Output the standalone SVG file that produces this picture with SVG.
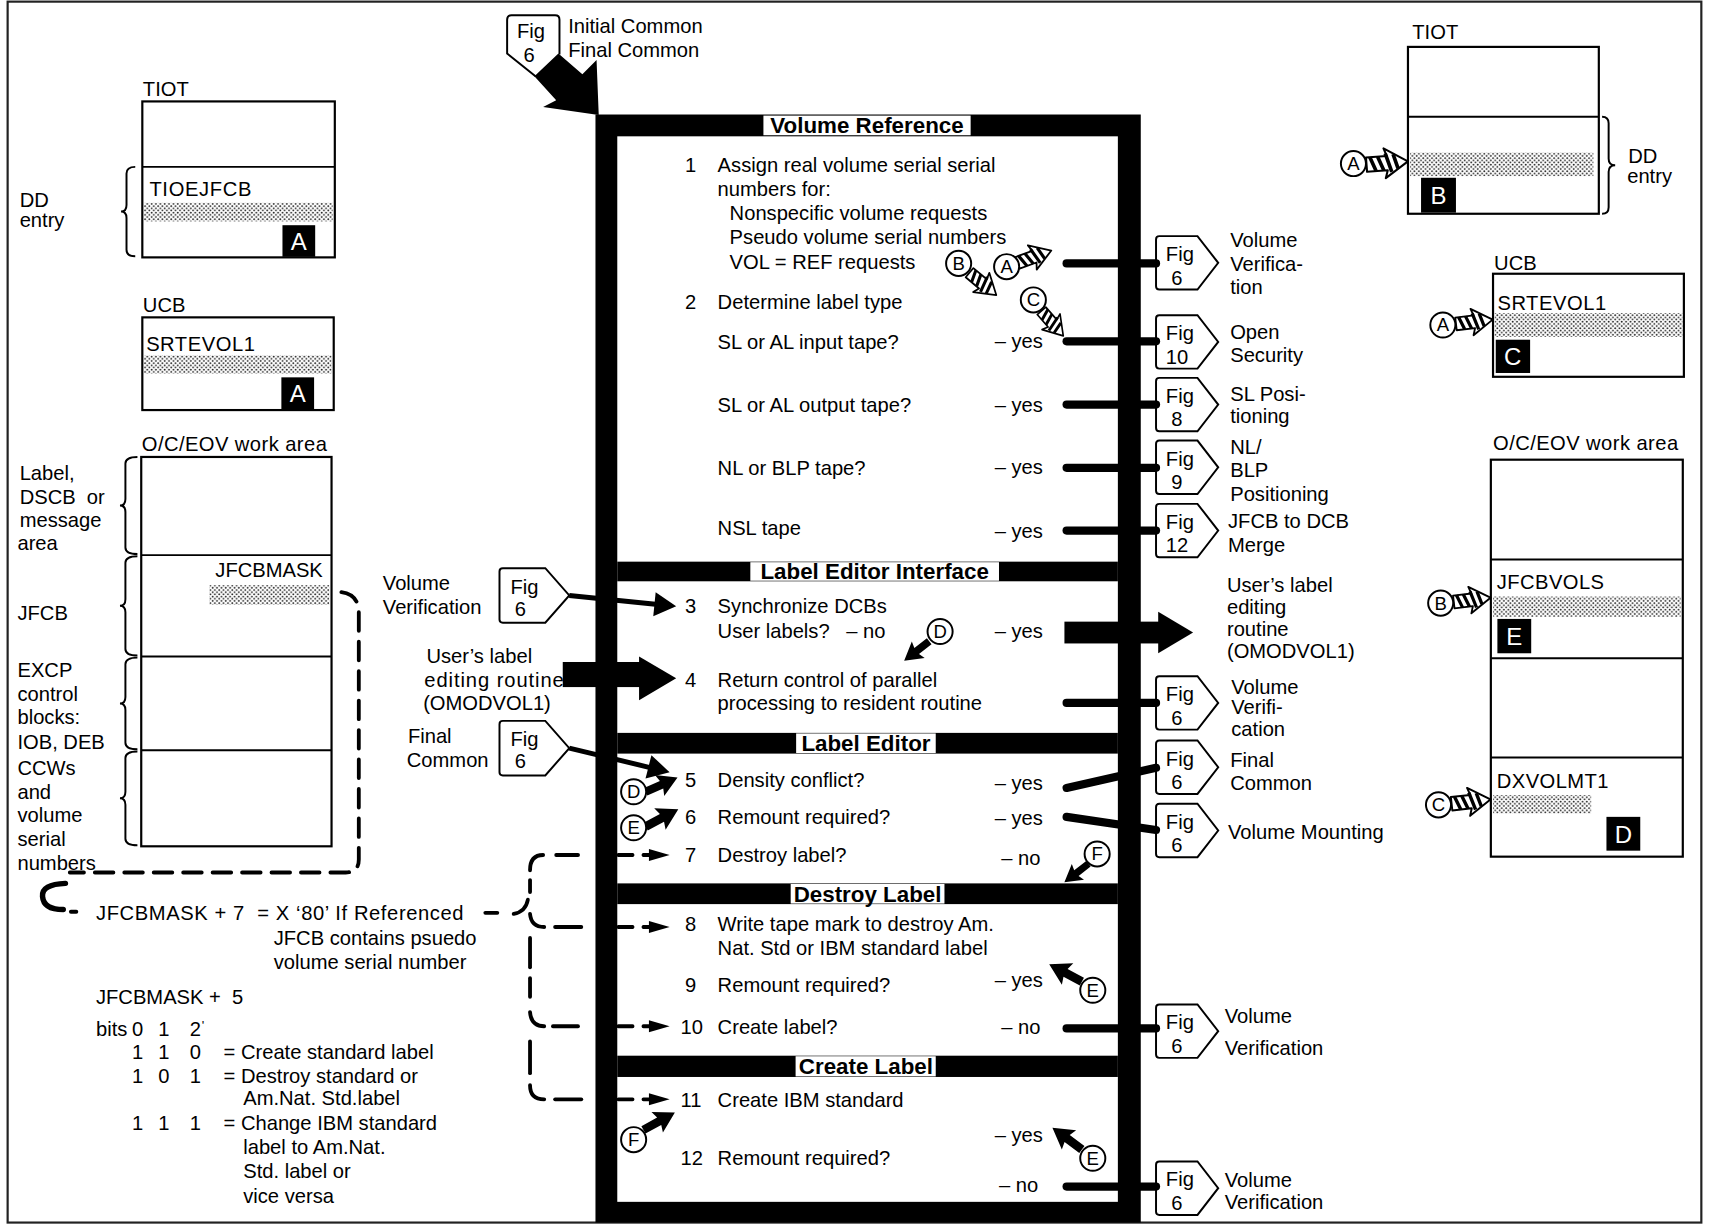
<svg xmlns="http://www.w3.org/2000/svg" width="1710" height="1225" viewBox="0 0 1710 1225">
<style>
text{font-family:"Liberation Sans",Arial,Helvetica,sans-serif;font-size:18.5px;fill:#000;dominant-baseline:central}
.h{font-weight:bold;font-size:20.5px;text-anchor:middle}
.cl{font-size:17px;text-anchor:middle}
.wl{fill:#fff;font-size:22px;text-anchor:middle}
.box{fill:#fff;stroke:#000;stroke-width:2}
.ln{stroke:#000;stroke-width:1.8;fill:none}
.br{fill:none;stroke:#000;stroke-width:1.8}
.dot{fill:url(#dots)}
.pent{fill:#fff;stroke:#000;stroke-width:1.8}
.circ{fill:#fff;stroke:#000;stroke-width:1.8}
.thick{stroke:#000;stroke-width:7.5;stroke-linecap:round;fill:none}
.thin{stroke:#000;stroke-width:4.5;fill:none}
.dash{stroke:#000;stroke-width:3.5;stroke-linecap:round;fill:none}
.blk{fill:#000}
</style>
<defs>
<pattern id="dots" patternUnits="userSpaceOnUse" width="4" height="4">
<rect width="4" height="4" fill="#fff"/>
<circle cx="1" cy="1" r="0.85" fill="#222"/>
<circle cx="3" cy="3" r="0.85" fill="#222"/>
</pattern>
<path id="pent" d="M0,3 Q0,0 3,0 L38,0 L57,24.5 L38,49 L3,49 Q0,49 0,46 Z"/>
<path id="pentL" d="M0,3 Q0,0 3,0 L42,0 L64,25 L42,50 L3,50 Q0,50 0,47 Z"/>
<g id="ha">
<polygon points="0,-5.5 16,-5.5 14,-11.5 32,0 14,11.5 16,5.5 0,5.5" fill="#fff" stroke="#000" stroke-width="1.6" stroke-linejoin="round"/>
<path d="M3,-5.5 L7,5.5 M9,-5.5 L13,5.5 M15,-7.5 L19,7 M21,-6.5 L24,4.7" stroke="#000" stroke-width="2.8"/>
</g>
<polygon id="ba" points="0,-3.8 16,-3.8 14,-10.5 32,0 14,10.5 16,3.8 0,3.8" fill="#000"/>
<g id="da">
<path d="M0,0 L13,0 M23,0 L30,0" stroke="#000" stroke-width="3.5" stroke-linecap="round"/>
<polygon points="28,-5.5 47,0 28,5.5" fill="#000"/>
</g>
</defs>
<rect width="1710" height="1225" fill="#fff"/>
<g transform="scale(1.0906)">
<rect id="frame" x="7" y="1.5" width="1553" height="1119.5" fill="none" stroke="#222" stroke-width="2"/>

<!-- Left TIOT -->
<g id="tiot-left">
<text x="131" y="82">TIOT</text>
<rect class="box" x="130.5" y="93" width="176.5" height="143"/>
<line class="ln" x1="130.5" y1="153" x2="307" y2="153"/>
<text x="137" y="173.5" letter-spacing="0.6">TIOEJFCB</text>
<rect class="dot" x="132" y="186" width="173" height="17"/>
<rect class="blk" x="259" y="206.5" width="30" height="29"/>
<text class="wl" x="274" y="221.5">A</text>
<path class="br" d="M124,153 Q116,153 116,159 L116,188 Q116,194 111,194 Q116,194 116,200 L116,229 Q116,235 124,235"/>
<text x="18" y="183.5">DD</text>
<text x="18" y="201.5">entry</text>
</g>

<!-- Left UCB -->
<g id="ucb-left">
<text x="131" y="280">UCB</text>
<rect class="box" x="130.5" y="291" width="175.5" height="85"/>
<text x="134" y="315" letter-spacing="0.5">SRTEVOL1</text>
<rect class="dot" x="132" y="325.5" width="172" height="17"/>
<rect class="blk" x="258" y="346" width="30" height="29.5"/>
<text class="wl" x="273" y="361">A</text>
</g>

<!-- Left work area -->
<g id="workarea-left">
<text x="130" y="407" letter-spacing="0.4">O/C/EOV work area</text>
<rect class="box" x="129.5" y="419" width="174.5" height="357"/>
<line class="ln" x1="129.5" y1="509" x2="304" y2="509"/>
<line class="ln" x1="129.5" y1="602" x2="304" y2="602"/>
<line class="ln" x1="129.5" y1="688" x2="304" y2="688"/>
<text x="296" y="523" text-anchor="end">JFCBMASK</text>
<rect class="dot" x="192" y="536.5" width="110" height="18"/>
<path class="br" d="M126,419 Q115,419 115,425 L115,457.5 Q115,463.5 110,463.5 Q115,463.5 115,469.5 L115,502 Q115,508 126,508"/>
<path class="br" d="M126,510 Q115,510 115,516 L115,549.5 Q115,555.5 110,555.5 Q115,555.5 115,561.5 L115,595 Q115,601 126,601"/>
<path class="br" d="M126,603 Q115,603 115,609 L115,639 Q115,645 110,645 Q115,645 115,651 L115,681 Q115,687 126,687"/>
<path class="br" d="M126,689 Q115,689 115,695 L115,726 Q115,732 110,732 Q115,732 115,738 L115,769 Q115,775 126,775"/>
<text x="18" y="434">Label,</text>
<text x="18" y="455.5" xml:space="preserve">DSCB  or</text>
<text x="18" y="477">message</text>
<text x="16" y="498">area</text>
<text x="16" y="562">JFCB</text>
<text x="16" y="614">EXCP</text>
<text x="16" y="636">control</text>
<text x="16" y="657.5">blocks:</text>
<text x="16" y="680">IOB, DEB</text>
<text x="16" y="704.5">CCWs</text>
<text x="16" y="726">and</text>
<text x="16" y="747.5">volume</text>
<text x="16" y="769.5">serial</text>
<text x="16" y="791.5">numbers</text>
</g>

<!-- Bottom-left notes -->
<g id="notes">
<text x="88" y="837" textLength="337" lengthAdjust="spacing" xml:space="preserve">JFCBMASK + 7  = X ‘80’ If Referenced</text>
<text x="251" y="860">JFCB contains psuedo</text>
<text x="251" y="882.5">volume serial number</text>
<text x="88" y="914" xml:space="preserve">JFCBMASK +  5</text>
<text y="943.5"><tspan x="88">bits</tspan><tspan x="121">0</tspan><tspan x="145">1</tspan><tspan x="174">2</tspan><tspan x="185" dy="-4" font-size="12">'</tspan></text>
<text y="965"><tspan x="121">1</tspan><tspan x="145">1</tspan><tspan x="174">0</tspan><tspan x="205">= Create standard label</tspan></text>
<text y="986.5"><tspan x="121">1</tspan><tspan x="145">0</tspan><tspan x="174">1</tspan><tspan x="205">= Destroy standard or</tspan></text>
<text x="223" y="1007">Am.Nat. Std.label</text>
<text y="1029.5"><tspan x="121">1</tspan><tspan x="145">1</tspan><tspan x="174">1</tspan><tspan x="205">= Change IBM standard</tspan></text>
<text x="223" y="1051.5">label to Am.Nat.</text>
<text x="223" y="1073.5">Std. label or</text>
<text x="223" y="1096.5">vice versa</text>
</g>

<!-- Top entry pentagon -->
<g id="entry-fig6">
<path class="pent" d="M491,70 L465,49 L465,18 Q465,14 469,14 L509,14 Q513,14 513,18 L513,50"/>
<polygon class="blk" points="512,49 534,68 547,55 549,105.5 498,98 510,92 490,70"/>
<text x="474" y="28">Fig</text>
<text x="480" y="50">6</text>
<text x="521" y="24">Initial Common</text>
<text x="521" y="45.5">Final Common</text>
</g>

<!-- Central process box -->
<g id="process-box">
<rect class="blk" x="546" y="105" width="500" height="1016"/>
<rect fill="#fff" x="566" y="125" width="459" height="977"/>
<rect class="blk" x="566" y="515" width="459" height="18"/>
<rect class="blk" x="566" y="672" width="459" height="19"/>
<rect class="blk" x="566" y="810" width="459" height="19"/>
<rect class="blk" x="566" y="968" width="459" height="19.5"/>
<rect fill="#fff" x="700" y="106" width="190" height="18"/>
<rect fill="#fff" x="688" y="515.5" width="228" height="17"/>
<rect fill="#fff" x="730" y="672.5" width="128" height="18"/>
<rect fill="#fff" x="725" y="810.5" width="141" height="18"/>
<rect fill="#fff" x="729.5" y="968.5" width="128.5" height="18.5"/>
<text class="h" x="795" y="115">Volume Reference</text>
<text class="h" x="802" y="524">Label Editor Interface</text>
<text class="h" x="794" y="681.5">Label Editor</text>
<text class="h" x="795.5" y="820">Destroy Label</text>
<text class="h" x="794" y="978">Create Label</text>

<text x="628" y="151">1</text>
<text x="658" y="151">Assign real volume serial serial</text>
<text x="658" y="173">numbers for:</text>
<text x="669" y="195.5">Nonspecific volume requests</text>
<text x="669" y="217">Pseudo volume serial numbers</text>
<text x="669" y="240">VOL = REF requests</text>
<text x="628" y="277">2</text>
<text x="658" y="277">Determine label type</text>
<text x="658" y="314">SL or AL input tape?</text>
<text x="912" y="313">– yes</text>
<text x="658" y="371">SL or AL output tape?</text>
<text x="912" y="371">– yes</text>
<text x="658" y="429.5">NL or BLP tape?</text>
<text x="912" y="428.5">– yes</text>
<text x="658" y="484">NSL tape</text>
<text x="912" y="486.5">– yes</text>

<text x="628" y="556">3</text>
<text x="658" y="556">Synchronize DCBs</text>
<text x="658" y="579">User labels?</text>
<text x="776" y="579">– no</text>
<text x="912" y="579">– yes</text>
<text x="628" y="623.5">4</text>
<text x="658" y="623.5">Return control of parallel</text>
<text x="658" y="645">processing to resident routine</text>

<text x="628" y="715">5</text>
<text x="658" y="715">Density conflict?</text>
<text x="912" y="718">– yes</text>
<text x="628" y="749">6</text>
<text x="658" y="749">Remount required?</text>
<text x="912" y="750.5">– yes</text>
<text x="628" y="784">7</text>
<text x="658" y="784">Destroy label?</text>
<text x="918" y="787">– no</text>

<text x="628" y="847.5">8</text>
<text x="658" y="847.5">Write tape mark to destroy Am.</text>
<text x="658" y="869.5">Nat. Std or IBM standard label</text>
<text x="628" y="903">9</text>
<text x="658" y="903">Remount required?</text>
<text x="912" y="898.5">– yes</text>
<text x="624" y="941.5">10</text>
<text x="658" y="941.5">Create label?</text>
<text x="918" y="942">– no</text>

<text x="624" y="1008.5">11</text>
<text x="658" y="1008.5">Create IBM standard</text>
<text x="912" y="1040.5">– yes</text>
<text x="624" y="1062">12</text>
<text x="658" y="1062">Remount required?</text>
<text x="916" y="1086.5">– no</text>
</g>

<!-- Right Fig connectors -->
<g id="fig-vv1"><use href="#pent" class="pent" x="1060" y="216.5"/><text x="1069" y="233">Fig</text><text x="1074" y="254.5">6</text>
<text x="1128" y="220">Volume</text><text x="1128" y="242.5">Verifica-</text><text x="1128" y="263">tion</text></g>
<g id="fig-os"><use href="#pent" class="pent" x="1060" y="289"/><text x="1069" y="305.5">Fig</text><text x="1069" y="327">10</text>
<text x="1128" y="304">Open</text><text x="1128" y="325.5">Security</text></g>
<g id="fig-slp"><use href="#pent" class="pent" x="1060" y="346.5"/><text x="1069" y="363">Fig</text><text x="1074" y="384.5">8</text>
<text x="1128" y="361">SL Posi-</text><text x="1128" y="381">tioning</text></g>
<g id="fig-nlp"><use href="#pent" class="pent" x="1060" y="404"/><text x="1069" y="420.5">Fig</text><text x="1074" y="442">9</text>
<text x="1128" y="410">NL/</text><text x="1128" y="431">BLP</text><text x="1128" y="453">Positioning</text></g>
<g id="fig-merge"><use href="#pent" class="pent" x="1060" y="462"/><text x="1069" y="478.5">Fig</text><text x="1069" y="500">12</text>
<text x="1126" y="478">JFCB to DCB</text><text x="1126" y="500">Merge</text></g>
<g id="user-routine-right"><text x="1125" y="536.5">User’s label</text><text x="1125" y="556.5">editing</text><text x="1125" y="576.5">routine</text><text x="1125" y="596.5">(OMODVOL1)</text></g>
<g id="fig-vv2"><use href="#pent" class="pent" x="1060" y="620"/><text x="1069" y="636.5">Fig</text><text x="1074" y="658">6</text>
<text x="1129" y="629.5">Volume</text><text x="1129" y="648.5">Verifi-</text><text x="1129" y="668">cation</text></g>
<g id="fig-fc"><use href="#pent" class="pent" x="1060" y="679"/><text x="1069" y="695.5">Fig</text><text x="1074" y="717">6</text>
<text x="1128" y="697">Final</text><text x="1128" y="718">Common</text></g>
<g id="fig-vm"><use href="#pent" class="pent" x="1060" y="737"/><text x="1069" y="753.5">Fig</text><text x="1074" y="775">6</text>
<text x="1126" y="762.5">Volume Mounting</text></g>
<g id="fig-vv3"><use href="#pent" class="pent" x="1060" y="921"/><text x="1069" y="937.5">Fig</text><text x="1074" y="959">6</text>
<text x="1123" y="932">Volume</text><text x="1123" y="961">Verification</text></g>
<g id="fig-vv4"><use href="#pent" class="pent" x="1060" y="1065"/><text x="1069" y="1081.5">Fig</text><text x="1074" y="1103">6</text>
<text x="1123" y="1082">Volume</text><text x="1123" y="1102">Verification</text></g>

<!-- Left Fig connectors -->
<g id="fig-vv-in"><use href="#pentL" class="pent" x="458" y="521"/><text x="468" y="538">Fig</text><text x="472" y="558">6</text>
<text x="351" y="535">Volume</text><text x="351" y="556.5">Verification</text></g>
<g id="user-routine-left"><text x="391" y="601.5">User’s label</text><text x="389" y="623.5" textLength="128" lengthAdjust="spacing">editing routine</text><text x="388" y="644.5">(OMODVOL1)</text></g>
<g id="fig-fc-in"><use href="#pentL" class="pent" x="458" y="661"/><text x="468" y="678">Fig</text><text x="472" y="698">6</text>
<text x="374" y="675">Final</text><text x="373" y="697">Common</text></g>

<!-- Right side structures -->
<g id="tiot-right">
<text x="1295" y="29">TIOT</text>
<rect class="box" x="1291" y="43" width="175" height="153"/>
<line class="ln" x1="1291" y1="107" x2="1466" y2="107"/>
<rect class="dot" x="1293" y="140" width="168" height="21.5"/>
<rect class="blk" x="1303" y="163" width="32" height="32"/>
<text class="wl" x="1319" y="179.5">B</text>
<path class="br" d="M1469,107 Q1475,107 1475,113 L1475,145.5 Q1475,151.5 1481,151.5 Q1475,151.5 1475,157.5 L1475,190 Q1475,196 1469,196"/>
<text x="1493" y="143">DD</text>
<text x="1492" y="161">entry</text>
</g>
<g id="ucb-right">
<text x="1370" y="241.5">UCB</text>
<rect class="box" x="1369" y="251" width="175" height="94.5"/>
<text x="1373" y="278" letter-spacing="0.5">SRTEVOL1</text>
<rect class="dot" x="1370.5" y="287" width="172" height="22"/>
<rect class="blk" x="1371.5" y="311.5" width="31.5" height="30.5"/>
<text class="wl" x="1387" y="327">C</text>
</g>
<g id="workarea-right">
<text x="1369" y="406.5" letter-spacing="0.4">O/C/EOV work area</text>
<rect class="box" x="1367" y="421.5" width="176" height="364"/>
<line class="ln" x1="1367" y1="513" x2="1543" y2="513"/>
<line class="ln" x1="1367" y1="603.5" x2="1543" y2="603.5"/>
<line class="ln" x1="1367" y1="694.5" x2="1543" y2="694.5"/>
<text x="1372.5" y="534" letter-spacing="0.4">JFCBVOLS</text>
<rect class="dot" x="1369" y="547" width="172" height="18.5"/>
<rect class="blk" x="1373" y="567.5" width="31" height="31.5"/>
<text class="wl" x="1388.5" y="583.5">E</text>
<text x="1372.5" y="716.5" letter-spacing="0.4">DXVOLMT1</text>
<rect class="dot" x="1369" y="729" width="90" height="17"/>
<rect class="blk" x="1473" y="749" width="31" height="31"/>
<text class="wl" x="1488.5" y="765">D</text>
</g>

<!-- Connectors -->
<g id="connectors">
<line class="thick" x1="978" y1="241.5" x2="1060" y2="241.5"/>
<line class="thick" x1="978" y1="313" x2="1060" y2="313"/>
<line class="thick" x1="978" y1="371" x2="1060" y2="371"/>
<line class="thick" x1="978" y1="429" x2="1060" y2="429"/>
<line class="thick" x1="978" y1="486.5" x2="1060" y2="486.5"/>
<line class="thick" x1="978" y1="644.5" x2="1060" y2="644.5"/>
<line class="thick" x1="978" y1="722.5" x2="1060" y2="704"/>
<line class="thick" x1="978" y1="749" x2="1060" y2="761"/>
<line class="thick" x1="978" y1="943" x2="1060" y2="943"/>
<line class="thick" x1="978" y1="1088" x2="1060" y2="1088"/>
<!-- big arrows -->
<rect class="blk" x="976" y="570" width="88" height="20"/>
<polygon class="blk" points="1062,561 1094,580 1062,599"/>
<rect class="blk" x="516" y="607" width="72" height="23"/>
<polygon class="blk" points="586,602 620,622 586,642"/>
<!-- thin arrows from left Fig 6 -->
<line class="thin" x1="522" y1="546" x2="601" y2="554"/>
<polygon class="blk" points="599,565 620,556 601.2,543"/>
<line class="thin" x1="522" y1="686" x2="597" y2="704"/>
<polygon class="blk" points="591.9,713.9 614,708 597.3,692.5"/>
<!-- dashed from JFCBMASK -->
<path class="dash" stroke-dasharray="17 10" d="M313,543 Q328,545 329,560 L329,788 Q329,800 317,800 L64,800"/>
<path d="M60,810 Q38,811 39,822 Q40,834 58,834" fill="none" stroke="#000" stroke-width="5" stroke-linecap="round"/>
<path class="dash" d="M65,836 L70,836"/>
<!-- dashed bracket to steps 7, 8, 10, 11 -->
<path class="dash" d="M445,837 L456,837"/>
<path class="dash" d="M471,838 Q482,836 484,825"/>
<path class="dash" d="M486,798 Q486,784 498,784"/>
<path class="dash" d="M510,784 L530,784"/>
<path class="dash" d="M486,807 L486,818"/>
<path class="dash" d="M486,838 Q487,850 499,850"/>
<path class="dash" d="M509,850 L533,850"/>
<path class="dash" d="M486,860 L486,887"/>
<path class="dash" d="M486,897 L486,914"/>
<path class="dash" d="M486,928 Q487,941 499,941"/>
<path class="dash" d="M507,941 L530,941"/>
<path class="dash" d="M486,955 L486,984"/>
<path class="dash" d="M486,995 Q486,1008 499,1008"/>
<path class="dash" d="M509,1008 L533,1008"/>
<use href="#da" x="567" y="784"/>
<use href="#da" x="567" y="850"/>
<use href="#da" x="567" y="941"/>
<use href="#da" x="567" y="1008"/>
</g>

<!-- Circled off-page markers -->
<g id="markers">
<use href="#ha" transform="translate(889,250) rotate(40)"/>
<use href="#ha" transform="translate(933,241) rotate(-20) scale(1.03)"/>
<use href="#ha" transform="translate(955,285) rotate(49) scale(0.95)"/>
<use href="#ha" transform="translate(1253,151) rotate(-4.5) scale(1.19)"/>
<use href="#ha" transform="translate(1335,297) rotate(-6.7) scale(1.06)"/>
<use href="#ha" transform="translate(1333,552) rotate(-6.7) scale(1.06)"/>
<use href="#ha" transform="translate(1331,737) rotate(-6.3) scale(1.12)"/>
<use href="#ba" transform="translate(852,588) rotate(142) scale(0.91)"/>
<use href="#ba" transform="translate(592,726) rotate(-24)"/>
<use href="#ba" transform="translate(592,758) rotate(-28) scale(1.06)"/>
<use href="#ba" transform="translate(998,792) rotate(142.3) scale(0.87)"/>
<use href="#ba" transform="translate(992,900) rotate(208) scale(1.06)"/>
<use href="#ba" transform="translate(590,1036) rotate(-29) scale(1.03)"/>
<use href="#ba" transform="translate(992,1054) rotate(216.5) scale(1.05)"/>
<g id="m-b1"><circle class="circ" cx="879" cy="241.5" r="11.5"/><text class="cl" x="879" y="241.5">B</text></g>
<g id="m-a1"><circle class="circ" cx="923" cy="244.5" r="11.5"/><text class="cl" x="923" y="244.5">A</text></g>
<g id="m-c1"><circle class="circ" cx="947.5" cy="275" r="11.5"/><text class="cl" x="947.5" y="275">C</text></g>
<g id="m-d1"><circle class="circ" cx="862" cy="579" r="11.5"/><text class="cl" x="862" y="579">D</text></g>
<g id="m-d2"><circle class="circ" cx="581" cy="726" r="11.5"/><text class="cl" x="581" y="726">D</text></g>
<g id="m-e1"><circle class="circ" cx="581" cy="759" r="11.5"/><text class="cl" x="581" y="759">E</text></g>
<g id="m-f1"><circle class="circ" cx="1006" cy="783" r="11.5"/><text class="cl" x="1006" y="783">F</text></g>
<g id="m-e2"><circle class="circ" cx="1002" cy="908" r="11.5"/><text class="cl" x="1002" y="908">E</text></g>
<g id="m-f2"><circle class="circ" cx="581" cy="1045" r="11.5"/><text class="cl" x="581" y="1045">F</text></g>
<g id="m-e3"><circle class="circ" cx="1002" cy="1062" r="11.5"/><text class="cl" x="1002" y="1062">E</text></g>
<g id="m-a2"><circle class="circ" cx="1241" cy="150" r="11.5"/><text class="cl" x="1241" y="150">A</text></g>
<g id="m-a3"><circle class="circ" cx="1323" cy="298" r="11.5"/><text class="cl" x="1323" y="298">A</text></g>
<g id="m-b2"><circle class="circ" cx="1321" cy="553" r="11.5"/><text class="cl" x="1321" y="553">B</text></g>
<g id="m-c2"><circle class="circ" cx="1319" cy="738" r="11.5"/><text class="cl" x="1319" y="738">C</text></g>
</g>
</g>
</svg>
